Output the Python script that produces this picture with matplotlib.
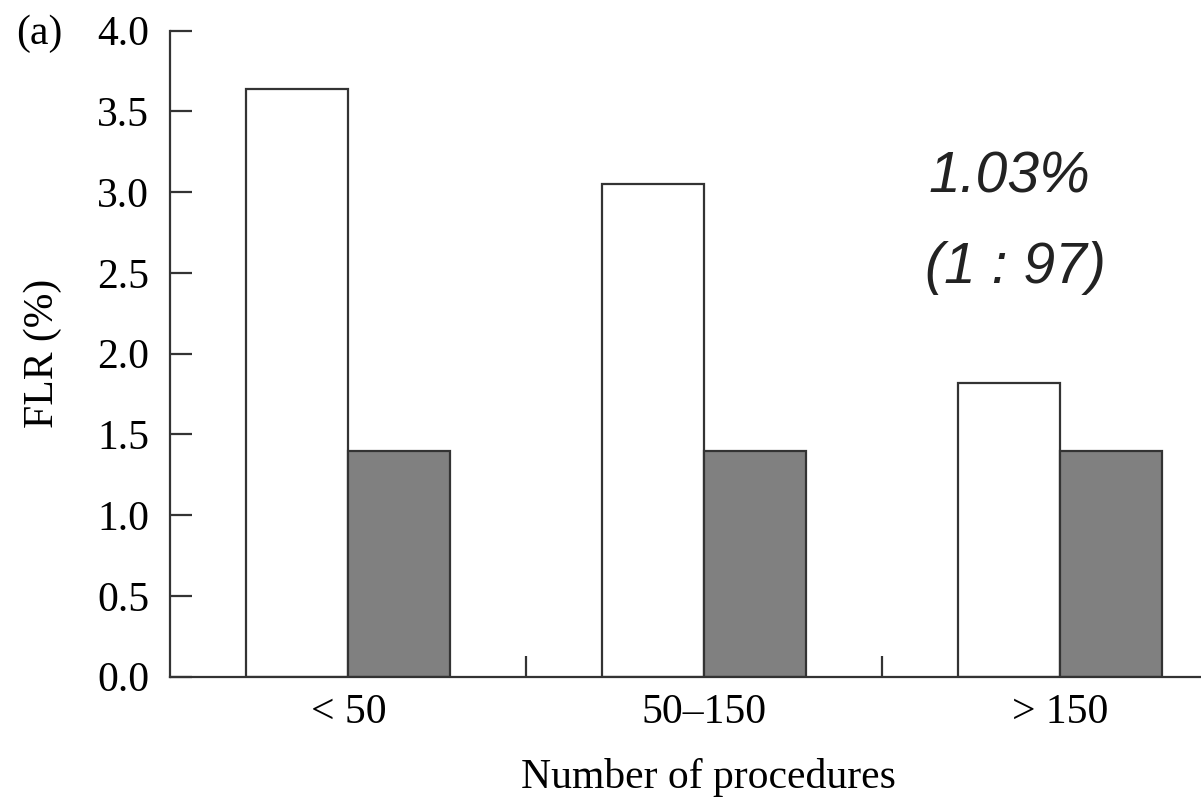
import matplotlib
matplotlib.use("Agg")
import matplotlib.pyplot as plt
import numpy as np

plt.rcParams['font.family'] = ['Liberation Serif', 'DejaVu Serif']

groups = ['< 50', '50\u2013150', '> 150']
flr_white = [3.64, 3.05, 1.82]
flr_gray = [1.40, 1.40, 1.40]
note_rate = '1.03%'
note_ratio = '(1 : 97)'

W, H = 1201, 798
fs = 30
fig = plt.figure(figsize=(W / 100, H / 100), dpi=100)
ax = fig.add_axes([170 / W, (H - 676.7) / H, (W - 170) / W, (676.7 - 30.7) / H])

x = np.arange(len(groups))
bw = 0.287
edge = '#333333'
ax.bar(x - bw / 2, flr_white, bw, color='white', edgecolor=edge, linewidth=1.6)
ax.bar(x + bw / 2, flr_gray, bw, color='#808080', edgecolor=edge, linewidth=1.6)

ax.set_xlim(-0.5015, 2.397)
ax.set_ylim(0, 4.0)

for s in ['top', 'right']:
    ax.spines[s].set_visible(False)
for s in ['left', 'bottom']:
    ax.spines[s].set_color(edge)
    ax.spines[s].set_linewidth(1.6)

ax.set_yticks(np.arange(0, 4.01, 0.5))
ax.set_yticklabels(['%.1f' % v for v in np.arange(0, 4.01, 0.5)])
ax.tick_params(axis='y', direction='in', length=16, width=1.6, color=edge,
               labelsize=fs, pad=15)

ax.set_xticks(x)
ax.set_xticklabels(groups)
ax.set_xticks([0.5, 1.5], minor=True)
ax.tick_params(axis='x', which='major', length=0, labelsize=fs, pad=12)
ax.tick_params(axis='x', which='minor', direction='in', length=15, width=1.6, color=edge)

ax.set_ylabel('FLR (%)', fontsize=fs)
ax.yaxis.set_label_coords(-0.105, 0.5)
ax.set_xlabel('Number of procedures', fontsize=fs)
ax.xaxis.set_label_coords((708 - 170) / (W - 170), -0.126)

ax.text(1.631, 3.0, note_rate, fontsize=41, style='italic', va='baseline',
        family=['Liberation Sans', 'DejaVu Sans'], color='#222222')
ax.text(1.622, 2.44, note_ratio, fontsize=41, style='italic', va='baseline',
        family=['Liberation Sans', 'DejaVu Sans'], color='#222222')

fig.text(16 / W, (H - 44) / H, '(a)', fontsize=fs, va='baseline')

fig.savefig('out.png', dpi=100)
